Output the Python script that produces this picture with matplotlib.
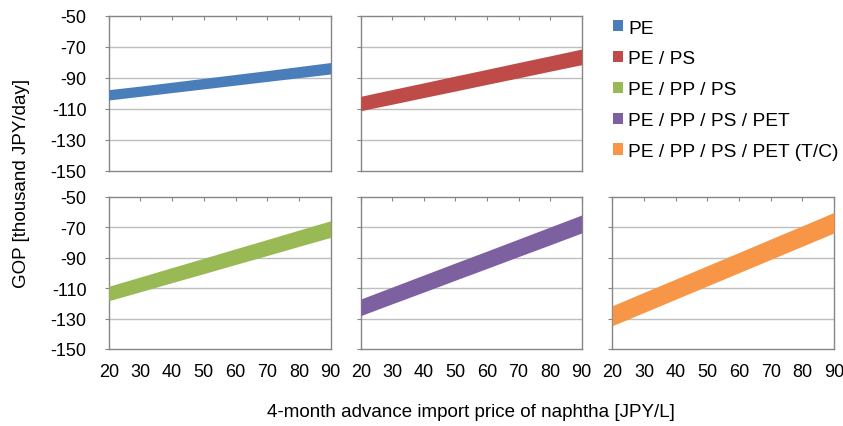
import matplotlib
matplotlib.use("Agg")
import matplotlib.pyplot as plt
from matplotlib.patches import Patch

plt.rcParams["font.family"] = ["Liberation Sans", "DejaVu Sans"]
plt.rcParams["axes.unicode_minus"] = False

# naphtha price [JPY/L]
price = [20, 30, 40, 50, 60, 70, 80, 90]

labels = ["PE", "PE / PS", "PE / PP / PS", "PE / PP / PS / PET", "PE / PP / PS / PET (T/C)"]
colors = ["#4A7EBB", "#BE4B48", "#98B954", "#7D60A0", "#F79646"]

# GOP band, upper and lower bounds [thousand JPY/day]
pe_hi = [-97.7, -95.4, -92.9, -90.4, -87.9, -85.4, -82.8, -80.2]
pe_lo = [-104.4, -102.0, -99.6, -97.2, -94.8, -92.4, -90.0, -87.6]
ps_hi = [-102.0, -97.6, -93.3, -88.9, -84.6, -80.2, -75.9, -71.5]
ps_lo = [-111.3, -107.1, -102.8, -98.6, -94.3, -90.1, -85.8, -81.6]
pp_hi = [-108.8, -102.7, -96.5, -90.4, -84.2, -78.1, -71.9, -65.8]
pp_lo = [-118.3, -112.4, -106.4, -100.5, -94.5, -88.6, -82.6, -76.7]
pet_hi = [-117.2, -109.3, -101.4, -93.5, -85.7, -77.8, -69.9, -62.0]
pet_lo = [-128.1, -120.3, -112.6, -104.8, -97.1, -89.3, -81.6, -73.8]
tc_hi = [-121.6, -112.8, -104.1, -95.3, -86.6, -77.8, -69.1, -60.3]
tc_lo = [-134.7, -126.0, -117.3, -108.6, -99.9, -91.2, -82.5, -73.8]

bands = [(pe_hi, pe_lo), (ps_hi, ps_lo), (pp_hi, pp_lo), (pet_hi, pet_lo), (tc_hi, tc_lo)]
yticks = [-150, -130, -110, -90, -70, -50]
xticks = [20, 30, 40, 50, 60, 70, 80, 90]

W, H = 843, 427
fig = plt.figure(figsize=(W / 100, H / 100), dpi=100)

cols = [(108.7, 222.0), (360.7, 221.0), (612.3, 221.7)]
rows = [(16.7, 155.0), (197.7, 152.3)]
cells = [(0, 0), (0, 1), (1, 0), (1, 1), (1, 2)]

for i, (r, c) in enumerate(cells):
    x0, w = cols[c]
    y0, h = rows[r]
    ax = fig.add_axes([x0 / W, 1 - (y0 + h) / H, w / W, h / H])
    hi, lo = bands[i]
    ax.fill_between(price, lo, hi, color=colors[i], lw=0, zorder=3)
    ax.set_xlim(20, 90)
    ax.set_ylim(-150, -50)
    ax.set_yticks(yticks)
    ax.set_xticks(xticks)
    for y in yticks[1:-1]:
        ax.axhline(y, color="#BFBFBF", lw=1.0, zorder=1)
    for s in ax.spines.values():
        s.set_color("#868686")
        s.set_linewidth(1.0)
    ax.tick_params(axis="y", direction="out", length=3, width=0.8, color="#868686",
                   labelsize=13, pad=13, labelleft=(c == 0))
    ax.tick_params(axis="x", top=True, bottom=False, direction="in", length=3, width=0.8,
                   color="#868686", labelsize=13, pad=10, labeltop=False,
                   labelbottom=(r == 1))

fig.text(22 / W, 1 - 183 / H, "GOP [thousand JPY/day]", rotation=90,
         ha="center", va="center", fontsize=13.5)
fig.text(471 / W, 1 - 413 / H, "4-month advance import price of naphtha [JPY/L]",
         ha="center", va="center", fontsize=13.5)

handles = [Patch(facecolor=col, edgecolor="none") for col in colors]
fig.legend(handles, labels, loc="upper left", bbox_to_anchor=(605 / W, 1 - 13 / H),
           frameon=False, fontsize=13.8, handlelength=0.52, handleheight=0.52,
           handletextpad=0.28, labelspacing=0.72, borderaxespad=0)

fig.savefig("out.png", dpi=100)
